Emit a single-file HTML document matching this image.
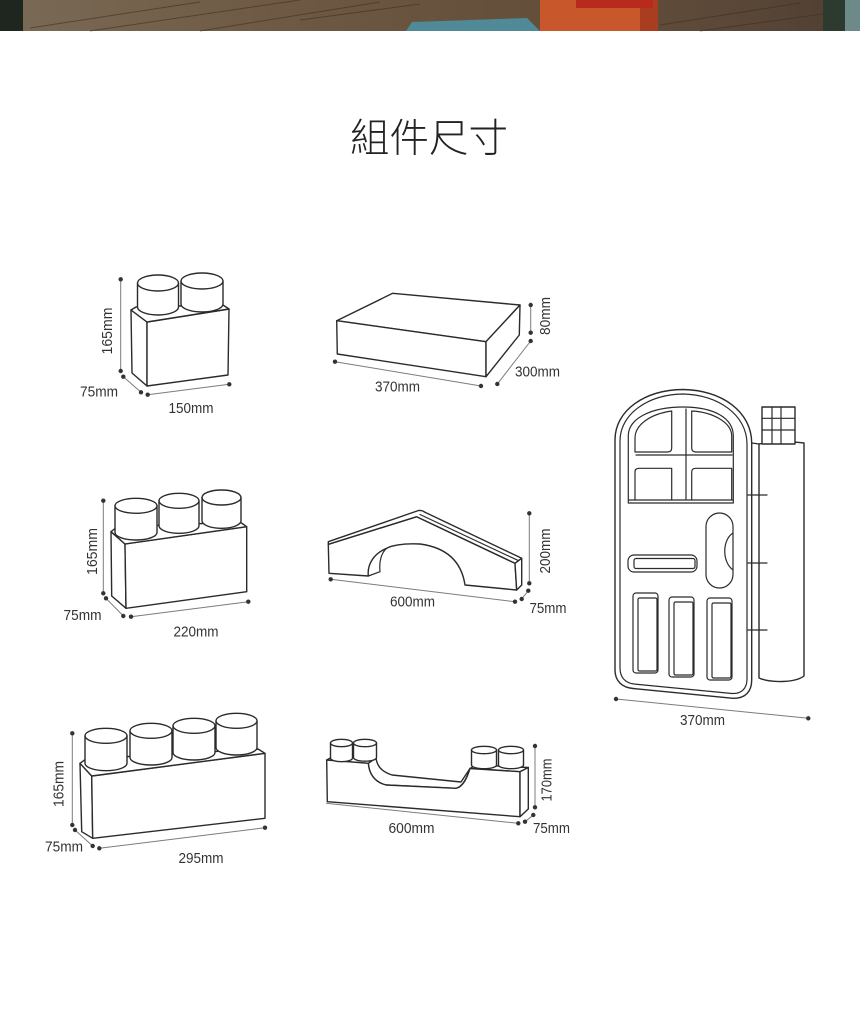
<!DOCTYPE html>
<html>
<head>
<meta charset="utf-8">
<style>
  html,body{margin:0;padding:0;background:#fff;}
  body{width:860px;height:1011px;overflow:hidden;position:relative;}
  svg{display:block;}
  .o{fill:#fff;stroke:#2b2b2b;stroke-width:1.4;stroke-linejoin:round;stroke-linecap:round;}
  .n{fill:none;stroke:#2b2b2b;stroke-width:1.2;stroke-linejoin:round;stroke-linecap:round;}
  .d{stroke:#7c7c7c;stroke-width:1;fill:none;}
  .dot{fill:#333;}
  .t{font-family:"Liberation Sans",Arial,sans-serif;font-size:14.5px;fill:#333;}
</style>
</head>
<body>
<svg width="860" height="1011" viewBox="0 0 860 1011" xmlns="http://www.w3.org/2000/svg">
  <defs>
    <linearGradient id="wood" x1="0" y1="0" x2="1" y2="0">
      <stop offset="0" stop-color="#7a6a56"/>
      <stop offset="0.3" stop-color="#6f5b45"/>
      <stop offset="0.55" stop-color="#66513c"/>
      <stop offset="0.8" stop-color="#5e4a39"/>
      <stop offset="1" stop-color="#4f3f33"/>
    </linearGradient>
  </defs>

  <!-- Banner -->
  <rect x="0" y="0" width="860" height="31" fill="url(#wood)"/>
  <rect x="0" y="0" width="23" height="31" fill="#1f2620"/>
  <g stroke="#3e2f24" stroke-width="1" opacity="0.6">
    <line x1="30" y1="28" x2="200" y2="2"/>
    <line x1="90" y1="31" x2="300" y2="0"/>
    <line x1="200" y1="31" x2="380" y2="2"/>
    <line x1="300" y1="20" x2="420" y2="4"/>
    <line x1="660" y1="25" x2="800" y2="3"/>
    <line x1="700" y1="31" x2="823" y2="14"/>
  </g>
  <polygon points="406,31 412,22 470,20 527,18 540,31" fill="#4f8a96"/>
  <rect x="540" y="0" width="118" height="31" fill="#c8582b"/>
  <rect x="640" y="0" width="18" height="31" fill="#a83e1f"/>
  <rect x="576" y="0" width="77" height="8" fill="#b72a1c"/>
  <rect x="823" y="0" width="22" height="31" fill="#2c3a30"/>
  <rect x="845" y="0" width="15" height="31" fill="#6d8a88"/>

  <!-- Title -->
  <text x="429" y="152" text-anchor="middle" font-family="'Liberation Sans','Noto Sans CJK TC','Noto Sans CJK SC',sans-serif" font-size="39.5" font-weight="300" fill="#222">組件尺寸</text>

  <!-- ===== Block 1 (2 studs) ===== -->
  <polygon class="o" points="131,310 147,322 147,386 132,373"/>
  <polygon class="o" points="147,322 229,309 228,375 147,386"/>
  <polygon class="o" points="131,310 147,322 229,309 223,305 136,307"/>
  <path class="o" d="M137.5,283 L137.5,307 A20.5,8 0 0 0 178.5,307 L178.5,283 Z"/>
  <ellipse class="o" cx="158" cy="283" rx="20.5" ry="8"/>
  <path class="o" d="M181,281 L181,304 A21,8 0 0 0 223,304 L223,281 Z"/>
  <ellipse class="o" cx="202" cy="281" rx="21" ry="8"/>
  <line class="d" x1="120.7" y1="279.3" x2="120.7" y2="371"/>
  <line class="d" x1="123.3" y1="376.7" x2="141" y2="392.3"/>
  <line class="d" x1="147.7" y1="394.7" x2="229.3" y2="384.3"/>
  <g class="dot">
    <circle cx="120.7" cy="279.3" r="2.2"/><circle cx="120.7" cy="371" r="2.2"/>
    <circle cx="123.3" cy="376.7" r="2.2"/><circle cx="141" cy="392.3" r="2.2"/>
    <circle cx="147.7" cy="394.7" r="2.2"/><circle cx="229.3" cy="384.3" r="2.2"/>
  </g>
  <text class="t" transform="translate(112,331) rotate(-90)" text-anchor="middle" textLength="47" lengthAdjust="spacingAndGlyphs">165mm</text>
  <text class="t" x="99" y="396.5" text-anchor="middle" textLength="38" lengthAdjust="spacingAndGlyphs">75mm</text>
  <text class="t" x="191" y="413" text-anchor="middle" textLength="45" lengthAdjust="spacingAndGlyphs">150mm</text>

  <!-- ===== Block 2 (flat slab) ===== -->
  <polygon class="o" points="392.7,293.3 520,305 486,341.7 336.7,320.7"/>
  <polygon class="o" points="336.7,320.7 486,341.7 486,376.7 337.3,354"/>
  <polygon class="o" points="486,341.7 520,305 519.3,335 486,376.7"/>
  <line class="d" x1="530.7" y1="305" x2="530.7" y2="332.7"/>
  <line class="d" x1="530.7" y1="341" x2="497.3" y2="384"/>
  <line class="d" x1="335" y1="361.7" x2="481" y2="386"/>
  <g class="dot">
    <circle cx="530.7" cy="305" r="2.2"/><circle cx="530.7" cy="332.7" r="2.2"/>
    <circle cx="530.7" cy="341" r="2.2"/><circle cx="497.3" cy="384" r="2.2"/>
    <circle cx="335" cy="361.7" r="2.2"/><circle cx="481" cy="386" r="2.2"/>
  </g>
  <text class="t" transform="translate(550,316) rotate(-90)" text-anchor="middle" textLength="38" lengthAdjust="spacingAndGlyphs">80mm</text>
  <text class="t" x="537.5" y="376.5" text-anchor="middle" textLength="45" lengthAdjust="spacingAndGlyphs">300mm</text>
  <text class="t" x="397.5" y="391.5" text-anchor="middle" textLength="45" lengthAdjust="spacingAndGlyphs">370mm</text>

  <!-- ===== Block 3 (door) ===== -->
  <path class="o" d="M615,670 L615,440 C615,410 645,390 683,389.5 C722,390 751.7,412 751.7,443 L751.7,680 C751.7,692 745,698.5 733,698.3 L633,688.5 C622,687.5 615,681 615,670 Z"/>
  <path class="n" d="M620,668 L620,441 C620,414 648,394.5 683,394 C718,394.5 747,415 747,444 L747,679 C747,689 741,694 732,693.5 L634,684 C625,683 620,677 620,668 Z"/>
  <!-- window -->
  <path class="n" d="M628.3,503 L628.3,436 C628.3,418 652,407 683,407 C714,407 733.3,418 733.3,436 L733.3,503 Z"/>
  <line class="n" x1="629" y1="500" x2="733" y2="500"/>
  <path class="n" d="M635,452 L635,438 C635,425 650,414 671.7,411 L671.7,448 Q671.7,452 667.5,452 Z"/>
  <path class="n" d="M691.7,411 C712,412 731.7,422 731.7,436 L731.7,452 L696,452 Q691.7,452 691.7,448 Z"/>
  <path class="n" d="M635,500 L635,472 Q635,468.3 639,468.3 L671.7,468.3 L671.7,500"/>
  <path class="n" d="M691.7,500 L691.7,472 Q691.7,468.3 695.7,468.3 L731.7,468.3 L731.7,500"/>
  <line class="n" x1="686" y1="409" x2="686" y2="499"/>
  <line class="n" x1="636" y1="455" x2="732" y2="455"/>
  <!-- handle -->
  <rect class="n" x="706" y="513" width="27" height="75" rx="13.5"/>
  <path class="n" d="M733,533 C722,540 722,562 733,570"/>
  <!-- slot -->
  <rect class="n" x="628" y="555" width="69" height="17" rx="6"/>
  <rect class="n" x="634" y="558.5" width="61" height="10" rx="2"/>
  <!-- panels -->
  <rect class="n" x="633" y="593" width="25" height="80" rx="3"/>
  <rect class="n" x="638" y="598" width="19" height="73" rx="1.5"/>
  <rect class="n" x="669" y="597" width="25" height="80" rx="3"/>
  <rect class="n" x="674" y="602" width="19" height="73" rx="1.5"/>
  <rect class="n" x="707" y="598" width="25" height="82" rx="3"/>
  <rect class="n" x="712" y="603" width="19" height="75" rx="1.5"/>
  <!-- hinge cylinder -->
  <path class="o" d="M759,444 L759,678 C770,683 795,683 804,676 L804,443 C790,441 770,442 759,444 Z"/>
  <line class="n" x1="751.7" y1="443" x2="759" y2="444"/>
  <line class="n" x1="748" y1="495" x2="767" y2="495"/>
  <line class="n" x1="748" y1="563" x2="767" y2="563"/>
  <line class="n" x1="748" y1="630" x2="767" y2="630"/>
  <rect class="o" x="762" y="407" width="33" height="37"/>
  <line class="n" x1="762" y1="418.3" x2="795" y2="418.3"/>
  <line class="n" x1="762" y1="430" x2="795" y2="430"/>
  <line class="n" x1="772" y1="407" x2="772" y2="444"/>
  <line class="n" x1="781" y1="407" x2="781" y2="444"/>
  <line class="d" x1="616" y1="699" x2="808.3" y2="718.3"/>
  <g class="dot"><circle cx="616" cy="699" r="2.2"/><circle cx="808.3" cy="718.3" r="2.2"/></g>
  <text class="t" x="702.5" y="725" text-anchor="middle" textLength="45" lengthAdjust="spacingAndGlyphs">370mm</text>

  <!-- ===== Block 4 (3 studs) ===== -->
  <polygon class="o" points="111,531.7 125,544 126,608.3 111.7,596"/>
  <polygon class="o" points="125,544 246.7,526.7 246.7,591.7 126,608.3"/>
  <polygon class="o" points="111,531.7 125,544 246.7,526.7 240,522 117,527"/>
  <path class="o" d="M115,505.8 L115,532.5 A21,7.5 0 0 0 157,532.5 L157,505.8 Z"/>
  <ellipse class="o" cx="136" cy="505.8" rx="21" ry="7.5"/>
  <path class="o" d="M159,500.8 L159,525.8 A20,7.5 0 0 0 199,525.8 L199,500.8 Z"/>
  <ellipse class="o" cx="179" cy="500.8" rx="20" ry="7.5"/>
  <path class="o" d="M202,497.5 L202,520.8 A19.5,7.5 0 0 0 241,520.8 L241,497.5 Z"/>
  <ellipse class="o" cx="221.5" cy="497.5" rx="19.5" ry="7.5"/>
  <line class="d" x1="103.3" y1="500.7" x2="103.3" y2="593.3"/>
  <line class="d" x1="106" y1="598.3" x2="123.3" y2="616"/>
  <line class="d" x1="131" y1="616.7" x2="248.3" y2="601.7"/>
  <g class="dot">
    <circle cx="103.3" cy="500.7" r="2.2"/><circle cx="103.3" cy="593.3" r="2.2"/>
    <circle cx="106" cy="598.3" r="2.2"/><circle cx="123.3" cy="616" r="2.2"/>
    <circle cx="131" cy="616.7" r="2.2"/><circle cx="248.3" cy="601.7" r="2.2"/>
  </g>
  <text class="t" transform="translate(97,551.5) rotate(-90)" text-anchor="middle" textLength="47" lengthAdjust="spacingAndGlyphs">165mm</text>
  <text class="t" x="82.5" y="620" text-anchor="middle" textLength="38" lengthAdjust="spacingAndGlyphs">75mm</text>
  <text class="t" x="196" y="636.7" text-anchor="middle" textLength="45" lengthAdjust="spacingAndGlyphs">220mm</text>

  <!-- ===== Block 5 (4 studs) ===== -->
  <polygon class="o" points="80,763.3 91.7,776 92.7,838.3 81.7,831.7"/>
  <polygon class="o" points="91.7,776 265,753.3 265,818.3 92.7,838.3"/>
  <polygon class="o" points="80,763.3 91.7,776 265,753.3 258,749 86,759"/>
  <path class="o" d="M85,735.8 L85,763.2 A21,7.5 0 0 0 127,763.2 L127,735.8 Z"/>
  <ellipse class="o" cx="106" cy="735.8" rx="21" ry="7.5"/>
  <path class="o" d="M130,730.8 L130,757.5 A21,7.5 0 0 0 172,757.5 L172,730.8 Z"/>
  <ellipse class="o" cx="151" cy="730.8" rx="21" ry="7.5"/>
  <path class="o" d="M173,725.8 L173,752.5 A21,7.5 0 0 0 215,752.5 L215,725.8 Z"/>
  <ellipse class="o" cx="194" cy="725.8" rx="21" ry="7.5"/>
  <path class="o" d="M216,720.8 L216,747.5 A20.5,7.5 0 0 0 257,747.5 L257,720.8 Z"/>
  <ellipse class="o" cx="236.5" cy="720.8" rx="20.5" ry="7.5"/>
  <line class="d" x1="72.3" y1="733.3" x2="72.3" y2="825"/>
  <line class="d" x1="75" y1="830" x2="92.7" y2="846"/>
  <line class="d" x1="99.3" y1="848.3" x2="265" y2="827.7"/>
  <g class="dot">
    <circle cx="72.3" cy="733.3" r="2.2"/><circle cx="72.3" cy="825" r="2.2"/>
    <circle cx="75" cy="830" r="2.2"/><circle cx="92.7" cy="846" r="2.2"/>
    <circle cx="99.3" cy="848.3" r="2.2"/><circle cx="265" cy="827.7" r="2.2"/>
  </g>
  <text class="t" transform="translate(63.5,784) rotate(-90)" text-anchor="middle" textLength="46" lengthAdjust="spacingAndGlyphs">165mm</text>
  <text class="t" x="64" y="851.7" text-anchor="middle" textLength="38" lengthAdjust="spacingAndGlyphs">75mm</text>
  <text class="t" x="201" y="863" text-anchor="middle" textLength="45" lengthAdjust="spacingAndGlyphs">295mm</text>

  <!-- ===== Block 6 (bridge) ===== -->
  <path class="o" d="M328.3,544.3 L416.7,516.7 L515,563.3 L516.7,590 L465,585 C462,565 450,548 420,544 C402,543 390,546 386.7,548.3 C375,553 367,563 368.3,576 L329,573.3 Z"/>
  <path class="o" d="M328.3,541.7 L418.5,510.5 Q422,510 425,512.3 L521.7,558.3 L515,563.3 L416.7,516.7 L328.3,544.3 Z"/>
  <line class="n" x1="420" y1="514.5" x2="518.3" y2="560.6"/>
  <polygon class="o" points="515,563.3 521.7,558.3 521.7,585 516.7,590"/>
  <path class="n" d="M368.3,576 L380,571.7 C379,562 381,553 386.7,548.3"/>
  <line class="d" x1="529.3" y1="513.3" x2="529.3" y2="583.3"/>
  <line class="d" x1="528.3" y1="590.7" x2="521.7" y2="599"/>
  <line class="d" x1="330.7" y1="579.3" x2="515" y2="601.7"/>
  <g class="dot">
    <circle cx="529.3" cy="513.3" r="2.2"/><circle cx="529.3" cy="583.3" r="2.2"/>
    <circle cx="528.3" cy="590.7" r="2.2"/><circle cx="521.7" cy="599" r="2.2"/>
    <circle cx="330.7" cy="579.3" r="2.2"/><circle cx="515" cy="601.7" r="2.2"/>
  </g>
  <text class="t" transform="translate(550,551) rotate(-90)" text-anchor="middle" textLength="45" lengthAdjust="spacingAndGlyphs">200mm</text>
  <text class="t" x="548" y="613" text-anchor="middle" textLength="37" lengthAdjust="spacingAndGlyphs">75mm</text>
  <text class="t" x="412.5" y="606.5" text-anchor="middle" textLength="45" lengthAdjust="spacingAndGlyphs">600mm</text>

  <!-- ===== Block 7 (U block) ===== -->
  <polygon class="o" points="326.7,760 333,756.5 376,758 368.3,763.3"/>
  <polygon class="o" points="470,768.5 476,765 528.3,767.5 520,771.7"/>
  <path class="o" d="M368.3,763.3 L376,758 C377,766 382,772 392,775 L461,782 L470,768.5 C467,778 463,787 456,788.3 L386,785 C374,782 369,773 368.3,763.3 Z"/>
  <path class="o" d="M326.7,760 L368.3,763.3 C369,773 374,782 386,785 L456,788.3 C463,787 467,778 470,768.5 L520,771.7 L520,816.7 L327.3,801.7 Z"/>
  <polygon class="o" points="520,771.7 528.3,767.5 528.3,809 520,816.7"/>
  <path class="o" d="M330.5,743 L330.5,758 A11,3.7 0 0 0 352.5,758 L352.5,743 Z"/>
  <ellipse class="o" cx="341.5" cy="743" rx="11" ry="3.7"/>
  <path class="o" d="M353.5,743 L353.5,757.5 A11.5,3.7 0 0 0 376.5,757.5 L376.5,743 Z"/>
  <ellipse class="o" cx="365" cy="743" rx="11.5" ry="3.7"/>
  <path class="o" d="M471.5,750 L471.5,765 A12.5,3.7 0 0 0 496.5,765 L496.5,750 Z"/>
  <ellipse class="o" cx="484" cy="750" rx="12.5" ry="3.7"/>
  <path class="o" d="M498.5,750 L498.5,765 A12.5,3.7 0 0 0 523.5,765 L523.5,750 Z"/>
  <ellipse class="o" cx="511" cy="750" rx="12.5" ry="3.7"/>
  <line class="d" x1="535" y1="746" x2="535" y2="807.3"/>
  <line class="d" x1="533.3" y1="815" x2="525" y2="821.7"/>
  <line class="d" x1="326" y1="803.3" x2="518.3" y2="823.3"/>
  <g class="dot">
    <circle cx="535" cy="746" r="2.2"/><circle cx="535" cy="807.3" r="2.2"/>
    <circle cx="533.3" cy="815" r="2.2"/><circle cx="525" cy="821.7" r="2.2"/>
    <circle cx="518.3" cy="823.3" r="2.2"/>
  </g>
  <text class="t" transform="translate(551.5,780) rotate(-90)" text-anchor="middle" textLength="43" lengthAdjust="spacingAndGlyphs">170mm</text>
  <text class="t" x="551.5" y="833" text-anchor="middle" textLength="37" lengthAdjust="spacingAndGlyphs">75mm</text>
  <text class="t" x="411.5" y="833" text-anchor="middle" textLength="46" lengthAdjust="spacingAndGlyphs">600mm</text>
</svg>
</body>
</html>
